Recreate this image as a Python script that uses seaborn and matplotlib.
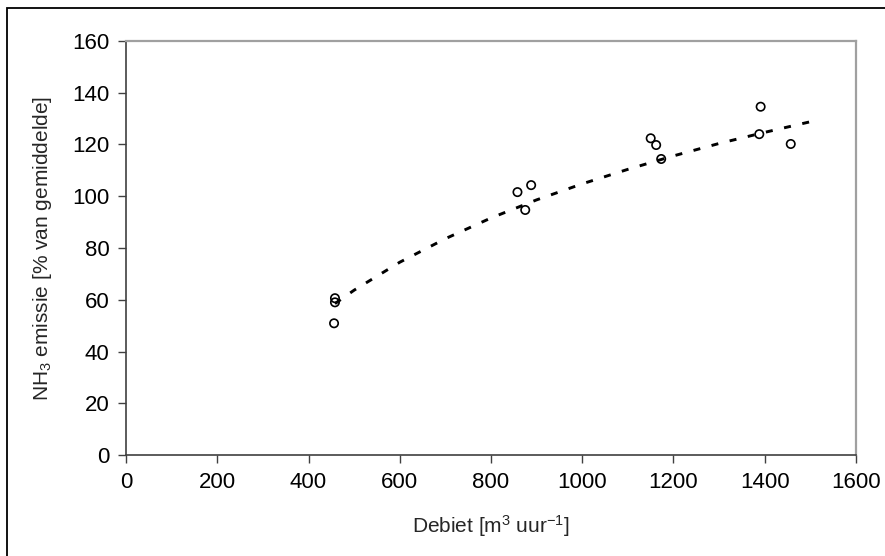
import pandas as pd
import seaborn as sns
import matplotlib.pyplot as plt
from matplotlib.patches import Rectangle

debiet = [456, 458, 458, 858, 875, 888, 1150, 1162, 1173, 1388, 1391, 1457]
emissie = [50.9, 59.0, 60.6, 101.6, 94.7, 104.3, 122.4, 119.8, 114.4, 124.0, 134.6, 120.2]

# dashed (logarithmic) trend line
trend_x = [458, 500, 600, 700, 800, 900, 1000, 1100, 1200, 1300, 1400, 1500]
trend_y = [58.5, 63.7, 74.5, 83.6, 91.6, 98.6, 104.8, 110.4, 115.6, 120.4, 124.7, 128.8]

x_ticks = [0, 200, 400, 600, 800, 1000, 1200, 1400, 1600]
y_ticks = [0, 20, 40, 60, 80, 100, 120, 140, 160]


def main():
    df = pd.DataFrame({"debiet": debiet, "emissie": emissie})
    trend = pd.DataFrame({"debiet": trend_x, "emissie": trend_y})

    sns.set_theme(style="white")
    plt.rcParams["font.family"] = ["Liberation Sans", "DejaVu Sans"]
    plt.rcParams["mathtext.fontset"] = "custom"
    plt.rcParams["mathtext.rm"] = "Liberation Sans"
    plt.rcParams["mathtext.it"] = "Liberation Sans"

    fig = plt.figure(figsize=(8.85, 5.56), dpi=100)
    ax = fig.add_axes([126 / 885, 1 - 455 / 556, (856 - 126) / 885, (455 - 41) / 556])

    sns.lineplot(trend, x="debiet", y="emissie", ax=ax, color="black",
                 linewidth=2.1, linestyle=(0, (2.4, 4.0)))
    sns.scatterplot(df, x="debiet", y="emissie", ax=ax, marker="o", s=36,
                    facecolor="none", edgecolor="black", linewidth=1.2, zorder=3)

    ax.set_xlim(0, 1600)
    ax.set_ylim(0, 160)
    ax.set_xticks(x_ticks)
    ax.set_yticks(y_ticks)
    ax.tick_params(axis="both", direction="out", length=6, width=1,
                   color="#404040", labelsize=16, labelcolor="black", pad=6,
                   bottom=True, left=True)
    for side in ("left", "bottom"):
        ax.spines[side].set_color("#404040")
        ax.spines[side].set_linewidth(1.2)
    for side in ("top", "right"):
        ax.spines[side].set_color("#a0a0a0")
        ax.spines[side].set_linewidth(1.6)

    ax.set_xlabel("Debiet [m$^3$ uur$^{-1}$]", fontsize=15, labelpad=15)
    ax.set_ylabel("NH$_3$ emissie [% van gemiddelde]", fontsize=15, labelpad=13)

    # outer chart border
    fig.patches.append(Rectangle((7 / 885, -0.1), 1.0, 1.1 - 8 / 556,
                                 transform=fig.transFigure, fill=False,
                                 edgecolor="black", linewidth=1.3))

    fig.savefig("out.png", dpi=100)


if __name__ == "__main__":
    main()
